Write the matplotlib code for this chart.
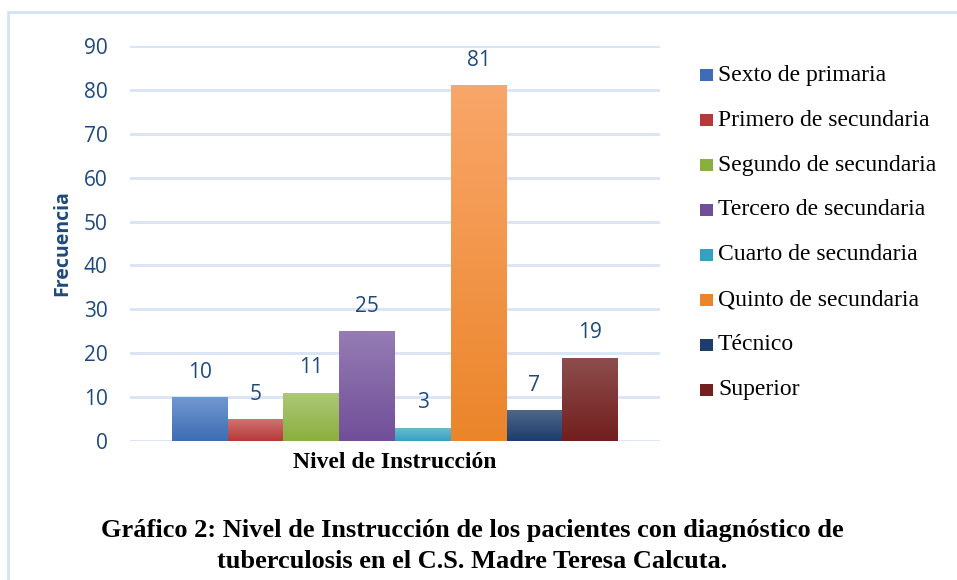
import numpy as np
import matplotlib
matplotlib.use('Agg')
import matplotlib.pyplot as plt
from matplotlib.colors import to_rgb
from matplotlib.patches import Rectangle

# data
categories = ['Sexto de primaria', 'Primero de secundaria', 'Segundo de secundaria',
              'Tercero de secundaria', 'Cuarto de secundaria', 'Quinto de secundaria',
              'Técnico', 'Superior']
values = [10, 5, 11, 25, 3, 81, 7, 19]
yticks = [0, 10, 20, 30, 40, 50, 60, 70, 80, 90]
# (top, bottom) gradient colours, office style
colors_top = ['#7197D0', '#D07370', '#ADC878', '#957CB4', '#6CBDD3', '#F9A66A', '#4E6689', '#8D4E4D']
colors_bot = ['#3D6DB4', '#B6393A', '#8BAF3F', '#714F98', '#36A1BF', '#EB852A', '#1E3D6C', '#721F1E']

W, H = 957, 580
fig = plt.figure(figsize=(W/100, H/100), dpi=100)

# light blue frame around the chart
fig.patches.append(Rectangle((8/W, -0.05), 1.2, 1 - 12/H + 0.05, transform=fig.transFigure,
                             fill=False, edgecolor='#D5E1F3', linewidth=2))

ax = fig.add_axes([130/W, (H-441)/H, 530/W, (441-46)/H])
x = np.arange(len(values))
bars = ax.bar(x, values, width=1.0, color=colors_bot, zorder=2)

# vertical gradient inside each bar
for b, ct, cb in zip(bars, colors_top, colors_bot):
    t = np.linspace(0, 1, 64)[:, None]
    grad = (1 - t) * np.array(to_rgb(ct)) + t * np.array(to_rgb(cb))
    grad = grad[:, None, :]
    bx, bw, bh = b.get_x(), b.get_width(), b.get_height()
    im = ax.imshow(grad, extent=[bx, bx + bw, 0, bh], aspect='auto', zorder=3,
                   interpolation='bilinear')
    im.set_clip_path(b)

lab_col = '#1F497D'
for xi, v in zip(x, values):
    ax.annotate(str(v), (xi, v), xytext=(0, 18), textcoords='offset points', ha='center',
                va='center', fontsize=15, color=lab_col, family='Open Sans')

ax.set_xlim(-0.5 - 0.753, len(values) - 0.5 + 0.753)
ax.set_ylim(0, 90)
ax.set_yticks(yticks)
ax.yaxis.grid(True, color='#D9E3F3', linewidth=2, zorder=0)
ax.set_axisbelow(True)
for s in ax.spines.values():
    s.set_visible(False)
ax.tick_params(axis='y', length=0, pad=16, labelsize=15, labelcolor=lab_col)
for t in ax.get_yticklabels():
    t.set_family('Open Sans')
ax.set_xticks([])

fig.text(62/W, 1 - 243/H, 'Frecuencia', rotation=90, ha='center', va='center',
         fontsize=14, fontweight='bold', color=lab_col, family='Open Sans')
fig.text(395/W, 1 - 462/H, 'Nivel de Instrucción', ha='center', va='center',
         fontsize=17, fontweight='bold', color='black', family='Liberation Serif')

# legend
for i, (c, ct, cb) in enumerate(zip(categories, colors_top, colors_bot)):
    yy = 1 - (75 + 45 * i) / H
    fig.patches.append(Rectangle((700/W, yy - 6/H), 13/W, 12/H, transform=fig.transFigure,
                                 facecolor=cb, edgecolor='none'))
    fig.text(718/W, yy, c, ha='left', va='center', fontsize=17, color='black',
             family='Liberation Serif')

title_lines = ['Gráfico 2: Nivel de Instrucción de los pacientes con diagnóstico de',
               'tuberculosis en el C.S. Madre Teresa Calcuta.']
for i, line in enumerate(title_lines):
    fig.text(472/W, 1 - (530 + 31 * i)/H, line, ha='center', va='center', fontsize=19,
             fontweight='bold', color='black', family='Liberation Serif')

fig.savefig('out.png', dpi=100)
